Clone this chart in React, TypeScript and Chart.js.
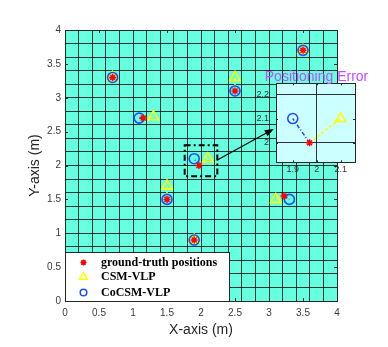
import React, { useEffect, useRef } from 'react';
import { Chart, registerables } from 'chart.js';

Chart.register(...registerables);

// ---------- data ----------
const groundTruthX = [0.7, 1.15, 2.5, 3.5, 1.97, 1.5, 1.9, 3.22];
const groundTruthY = [3.3, 2.7, 3.1, 3.7, 2.0, 1.5, 0.9, 1.55];
const csmX = [0.7, 1.3, 2.5, 3.5, 2.1, 1.5, 1.9, 3.1];
const csmY = [3.3, 2.72, 3.3, 3.7, 2.1, 1.7, 0.9, 1.5];
const cocsmX = [0.7, 1.09, 2.5, 3.5, 1.9, 1.5, 1.9, 3.3];
const cocsmY = [3.3, 2.7, 3.1, 3.7, 2.1, 1.5, 0.9, 1.5];

const legendLabels = ['ground-truth positions', 'CSM-VLP', 'CoCSM-VLP'];
const mainXTicks = [0, 0.5, 1, 1.5, 2, 2.5, 3, 3.5, 4];
const mainYTicks = [0, 0.5, 1, 1.5, 2, 2.5, 3, 3.5, 4];
const mainRange = [0, 4];
const gridStep = 0.2;
const insetXTicks = [1.9, 2, 2.1];
const insetYTicks = [2, 2.1, 2.2];
const insetXRange = [1.83, 2.16];
const insetYRange = [1.92, 2.245];
const zoomBoxX = [1.76, 2.24];
const zoomBoxY = [1.84, 2.3];
const arrowFrom = [2.24, 2.08];
const arrowTo = [3.07, 2.54];
const insetTitle = 'Positioning Error';
const xTitle = 'X-axis (m)';
const yTitle = 'Y-axis (m)';

// ---------- styles ----------
const RED = '#ff0000';
const YELLOW = '#ffff00';
const BLUE = '#1f4dff';
const AXIS = '#262626';
const SANS = '"Liberation Sans", Arial, Helvetica, sans-serif';

const isMult = (v: number, s: number) => Math.abs(v / s - Math.round(v / s)) < 1e-6;
const near = (a: number, b: number) => Math.abs(a - b) < 1e-6;

function tickSet(labels: number[], min: number, max: number) {
  const vals: number[] = [...labels];
  const n0 = Math.ceil(min / gridStep - 1e-9);
  const n1 = Math.floor(max / gridStep + 1e-9);
  for (let n = n0; n <= n1; n++) {
    const v = Math.round(n * gridStep * 1e6) / 1e6;
    if (!vals.some((u) => near(u, v))) vals.push(v);
  }
  return vals.sort((a, b) => a - b).map((value) => ({ value }));
}

function pts(xs: number[], ys: number[]) {
  return xs.map((x, i) => ({ x, y: ys[i] }));
}

function makeDatasets() {
  const gt = pts(groundTruthX, groundTruthY);
  const csm = pts(csmX, csmY);
  const co = pts(cocsmX, cocsmY);
  const ds: any[] = [
    {
      label: legendLabels[0],
      data: gt,
      pointStyle: 'star',
      pointRadius: 3.5,
      pointBorderWidth: 1.5,
      borderColor: RED,
      backgroundColor: RED,
    },
    {
      label: legendLabels[2],
      data: co,
      pointStyle: 'circle',
      pointRadius: 5,
      pointBorderWidth: 1.6,
      borderColor: BLUE,
      backgroundColor: 'rgba(0,0,0,0)',
    },
    {
      label: legendLabels[1],
      data: csm,
      pointStyle: 'triangle',
      pointRadius: 6,
      pointBorderWidth: 1.6,
      borderColor: YELLOW,
      backgroundColor: 'rgba(0,0,0,0)',
    },
  ];
  gt.forEach((g, i) => {
    ds.push({
      data: [g, co[i]],
      showLine: true,
      borderColor: BLUE,
      borderWidth: 1.5,
      borderDash: [4, 2, 1, 2],
      pointRadius: 0,
    });
    ds.push({
      data: [g, csm[i]],
      showLine: true,
      borderColor: YELLOW,
      borderWidth: 1.5,
      borderDash: [3, 2],
      pointRadius: 0,
    });
  });
  return ds;
}

function drawBoxAndTicks(chart: any, labelsX: number[], labelsY: number[], tickLen: number) {
  const { ctx, chartArea: ca, scales } = chart;
  ctx.save();
  ctx.strokeStyle = AXIS;
  ctx.lineWidth = 1;
  ctx.beginPath();
  labelsX.forEach((v) => {
    const px = Math.round(scales.x.getPixelForValue(v)) + 0.5;
    ctx.moveTo(px, ca.bottom);
    ctx.lineTo(px, ca.bottom - tickLen);
    ctx.moveTo(px, ca.top);
    ctx.lineTo(px, ca.top + tickLen);
  });
  labelsY.forEach((v) => {
    const py = Math.round(scales.y.getPixelForValue(v)) + 0.5;
    ctx.moveTo(ca.left, py);
    ctx.lineTo(ca.left + tickLen, py);
    ctx.moveTo(ca.right, py);
    ctx.lineTo(ca.right - tickLen, py);
  });
  ctx.stroke();
  ctx.strokeRect(Math.round(ca.left) + 0.5, Math.round(ca.top) + 0.5, Math.round(ca.right - ca.left), Math.round(ca.bottom - ca.top));
  ctx.restore();
}

function bgPlugin(color: string) {
  return {
    id: 'bg',
    beforeDraw(chart: any) {
      const { ctx, chartArea: ca } = chart;
      ctx.save();
      ctx.fillStyle = color;
      ctx.fillRect(ca.left, ca.top, ca.right - ca.left, ca.bottom - ca.top);
      ctx.restore();
    },
  };
}

const mainDecor = {
  id: 'mainDecor',
  afterDraw(chart: any) {
    const { ctx, chartArea: ca, scales } = chart;
    drawBoxAndTicks(chart, mainXTicks, mainYTicks, 3);
    const X = (v: number) => scales.x.getPixelForValue(v);
    const Y = (v: number) => scales.y.getPixelForValue(v);
    ctx.save();
    // zoom rectangle
    ctx.strokeStyle = '#000';
    ctx.lineWidth = 2;
    ctx.setLineDash([6, 3, 2, 3]);
    ctx.strokeRect(X(zoomBoxX[0]), Y(zoomBoxY[1]), X(zoomBoxX[1]) - X(zoomBoxX[0]), Y(zoomBoxY[0]) - Y(zoomBoxY[1]));
    ctx.setLineDash([]);
    // arrow
    const x0 = X(arrowFrom[0]), y0 = Y(arrowFrom[1]);
    const x1 = X(arrowTo[0]), y1 = Y(arrowTo[1]);
    const ang = Math.atan2(y1 - y0, x1 - x0);
    const hl = 9, hw = 3.5;
    const bx = x1 - hl * Math.cos(ang), by = y1 - hl * Math.sin(ang);
    ctx.lineWidth = 1.2;
    ctx.beginPath();
    ctx.moveTo(x0, y0);
    ctx.lineTo(bx, by);
    ctx.stroke();
    ctx.fillStyle = '#000';
    ctx.beginPath();
    ctx.moveTo(x1, y1);
    ctx.lineTo(bx + hw * Math.sin(ang), by - hw * Math.cos(ang));
    ctx.lineTo(bx - hw * Math.sin(ang), by + hw * Math.cos(ang));
    ctx.closePath();
    ctx.fill();
    // legend
    const lw = 164, lh = 49;
    const lx = Math.round(ca.left) + 0.5, ly = Math.round(ca.bottom - lh) + 0.5;
    ctx.fillStyle = '#fff';
    ctx.fillRect(lx, ly, lw, lh);
    ctx.strokeStyle = AXIS;
    ctx.lineWidth = 1;
    ctx.strokeRect(lx, ly, lw, lh);
    const rows = [10, 24.5, 40];
    const mx = lx + 18;
    ctx.font = 'bold 12px "Liberation Serif", "Times New Roman", serif';
    ctx.textBaseline = 'middle';
    ctx.textAlign = 'left';
    legendLabels.forEach((t, i) => {
      const cy = ly + rows[i];
      ctx.lineWidth = 1.5;
      if (i === 0) {
        ctx.strokeStyle = RED;
        ctx.beginPath();
        const r = 3;
        for (let k = 0; k < 4; k++) {
          const a = (k * Math.PI) / 4;
          ctx.moveTo(mx - r * Math.cos(a), cy - r * Math.sin(a));
          ctx.lineTo(mx + r * Math.cos(a), cy + r * Math.sin(a));
        }
        ctx.stroke();
      } else if (i === 1) {
        ctx.strokeStyle = YELLOW;
        const r = 4.6;
        ctx.beginPath();
        ctx.moveTo(mx, cy - r);
        ctx.lineTo(mx + r * 0.866, cy + r * 0.5);
        ctx.lineTo(mx - r * 0.866, cy + r * 0.5);
        ctx.closePath();
        ctx.stroke();
      } else {
        ctx.strokeStyle = BLUE;
        ctx.beginPath();
        ctx.arc(mx, cy, 3.3, 0, Math.PI * 2);
        ctx.stroke();
      }
      ctx.fillStyle = '#000';
      ctx.fillText(t, lx + 35.5, cy);
    });
    ctx.restore();
  },
};

const insetDecor = {
  id: 'insetDecor',
  afterDraw(chart: any) {
    const { ctx, chartArea: ca } = chart;
    drawBoxAndTicks(chart, insetXTicks, insetYTicks, 2);
    ctx.save();
    ctx.font = `14px ${SANS}`;
    ctx.fillStyle = '#c64cff';
    ctx.textAlign = 'center';
    ctx.textBaseline = 'alphabetic';
    ctx.fillText(insetTitle, (ca.left + ca.right) / 2 + 1, ca.top - 2);
    ctx.restore();
  },
};

function gridColor(labels: number[]) {
  return (c: any) => (c.tick && isMult(c.tick.value, gridStep) ? 'rgba(20,20,20,0.85)' : 'rgba(0,0,0,0)');
}

function labelCb(labels: number[]) {
  return (v: any) => {
    const f = labels.find((l) => near(l, Number(v)));
    return f === undefined ? '' : String(f);
  };
}

export default function App() {
  const mainRef = useRef<HTMLCanvasElement>(null);
  const insetRef = useRef<HTMLCanvasElement>(null);

  useEffect(() => {
    document.body.style.margin = '0';
    const main = new Chart(mainRef.current as HTMLCanvasElement, {
      type: 'scatter',
      data: { datasets: makeDatasets() },
      plugins: [bgPlugin('#66ffe0'), mainDecor],
      options: {
        animation: false,
        responsive: false,
        events: [],
        layout: { padding: { left: 0, top: 30, right: 51, bottom: 0 } },
        plugins: { legend: { display: false }, tooltip: { enabled: false }, title: { display: false } },
        scales: {
          x: {
            type: 'linear',
            min: mainRange[0],
            max: mainRange[1],
            afterBuildTicks: (s: any) => { s.ticks = tickSet(mainXTicks, mainRange[0], mainRange[1]); },
            afterFit: (s: any) => { s.height = 46; },
            ticks: { autoSkip: false, maxRotation: 0, padding: 6, color: '#3a3a3a', font: { family: SANS, size: 10 }, callback: labelCb(mainXTicks) },
            grid: { color: gridColor(mainXTicks), lineWidth: 1, drawTicks: false },
            border: { display: false },
            title: { display: true, text: xTitle, color: AXIS, font: { family: SANS, size: 14 }, padding: { top: 0, bottom: 8.6 } },
          },
          y: {
            type: 'linear',
            min: mainRange[0],
            max: mainRange[1],
            afterBuildTicks: (s: any) => { s.ticks = tickSet(mainYTicks, mainRange[0], mainRange[1]); },
            afterFit: (s: any) => { s.width = 65; },
            ticks: { autoSkip: false, padding: 4, color: '#3a3a3a', font: { family: SANS, size: 10 }, callback: labelCb(mainYTicks) },
            grid: { color: gridColor(mainYTicks), lineWidth: 1, drawTicks: false },
            border: { display: false },
            title: { display: true, text: yTitle, color: AXIS, font: { family: SANS, size: 14 }, padding: { top: 26.6, bottom: 0 } },
          },
        },
      } as any,
    });

    const inset = new Chart(insetRef.current as HTMLCanvasElement, {
      type: 'scatter',
      data: { datasets: makeDatasets() },
      plugins: [bgPlugin('#ccffff'), insetDecor],
      options: {
        animation: false,
        responsive: false,
        events: [],
        layout: { padding: { left: 0, top: 28.3, right: 33, bottom: 0 } },
        plugins: { legend: { display: false }, tooltip: { enabled: false }, title: { display: false } },
        scales: {
          x: {
            type: 'linear',
            min: insetXRange[0],
            max: insetXRange[1],
            afterBuildTicks: (s: any) => { s.ticks = tickSet(insetXTicks, insetXRange[0], insetXRange[1]); },
            afterFit: (s: any) => { s.height = 17.7; },
            ticks: { autoSkip: false, maxRotation: 0, padding: 2, color: '#333', font: { family: SANS, size: 9 }, callback: labelCb(insetXTicks) },
            grid: { color: gridColor(insetXTicks), lineWidth: 1, drawTicks: false },
            border: { display: false },
          },
          y: {
            type: 'linear',
            min: insetYRange[0],
            max: insetYRange[1],
            afterBuildTicks: (s: any) => { s.ticks = tickSet(insetYTicks, insetYRange[0], insetYRange[1]); },
            afterFit: (s: any) => { s.width = 46; },
            ticks: { autoSkip: false, padding: 7, color: '#333', font: { family: SANS, size: 9 }, callback: labelCb(insetYTicks) },
            grid: { color: gridColor(insetYTicks), lineWidth: 1, drawTicks: false },
            border: { display: false },
          },
        },
      } as any,
    });

    return () => {
      main.destroy();
      inset.destroy();
    };
  }, []);

  return (
    <div style={{ position: 'absolute', left: 0, top: 0, width: 388, height: 347 }}>
      <canvas ref={mainRef} width={388} height={347} style={{ position: 'absolute', left: 0, top: 0, width: 388, height: 347 }} />
      <canvas ref={insetRef} width={158} height={125} style={{ position: 'absolute', left: 230, top: 55, width: 158, height: 125 }} />
    </div>
  );
}
